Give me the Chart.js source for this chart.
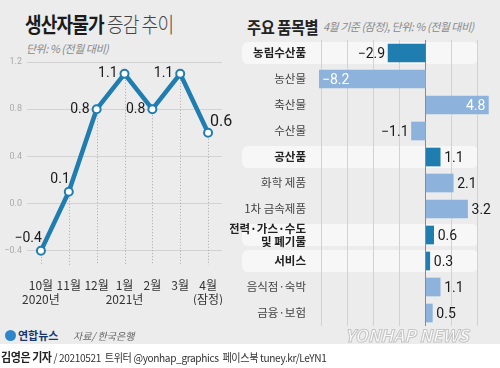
<!DOCTYPE html>
<html>
<head>
<meta charset="utf-8">
<script src="https://cdn.jsdelivr.net/npm/chart.js@4/dist/chart.umd.min.js"></script>
<style>
  body { margin: 0; }
  #wrap { position: relative; width: 500px; height: 368px; background: #ececec; overflow: hidden;
          font-family: "Noto Sans CJK KR", "Noto Sans", sans-serif; color: #222; }
  #wrap canvas { position: absolute; }
  .t { position: absolute; white-space: nowrap; }
  #title { left: 25px; top: 8px; font-size: 21px; letter-spacing: -1px; transform: scaleX(0.86); transform-origin: left center; }
  #title b { color: #1b1b1b; }
  #title span { color: #444; font-weight: 300; }
  #unit { left: 26px; top: 40px; font-size: 11px; color: #888; font-style: italic; letter-spacing: -0.5px; }
  #title2 { left: 247px; top: 14px; font-size: 17px; font-weight: bold; letter-spacing: -0.5px; transform: scaleX(0.9); transform-origin: left center; }
  #unit2 { left: 323px; top: 18px; font-size: 11px; color: #888; font-style: italic; letter-spacing: -0.5px; }
  #logo { left: 5px; top: 327px; font-size: 11px; font-weight: bold; color: #17386e; }
  #logo i { display: inline-block; width: 11px; height: 11px; border-radius: 50%; background: #2f86c8; vertical-align: -1px; margin-right: 2px; }
  #source { left: 73px; top: 328px; font-size: 10px; color: #666; font-style: italic; }
  #mark { left: 345px; top: 322px; font-size: 17px; font-weight: bold; font-style: italic; color: rgba(255,255,255,0.75);
          -webkit-text-stroke: 1px rgba(150,150,150,0.5); }
  #foot { left: 0; top: 344px; width: 500px; height: 24px; background: #fff; }
  #byline { left: 1px; top: 348px; font-size: 11px; color: #333; letter-spacing: -0.4px;
            font-family: "Liberation Sans Narrow", "Noto Sans CJK KR", sans-serif; transform: scaleX(0.92); transform-origin: left center; }
  #byline b { font-size: 12px; color: #222; font-family: "Noto Sans CJK KR", sans-serif; letter-spacing: -0.5px; }
</style>
</head>
<body>
<div id="wrap">
  <div class="t" id="title"><b>생산자물가</b> <span>증감 추이</span></div>
  <div class="t" id="unit">단위: % (전월 대비)</div>
  <div class="t" id="title2">주요 품목별</div>
  <div class="t" id="unit2">4월 기준 (잠정), 단위: % (전월 대비)</div>
  <canvas id="lineChart" width="240" height="320" style="left:0;top:0"></canvas>
  <canvas id="barChart" width="270" height="340" style="left:230px;top:0"></canvas>
  <div class="t" id="logo"><i></i>연합뉴스</div>
  <div class="t" id="source">자료/ 한국은행</div>
  <div class="t" id="mark">YONHAP NEWS</div>
  <div class="t" id="foot"></div>
  <div class="t" id="byline"><b>김영은 기자</b> / 20210521 &nbsp;트위터 @yonhap_graphics &nbsp;페이스북 tuney.kr/LeYN1</div>
</div>
<script>
// monthly producer price change
const months = ['10월', '11월', '12월', '1월', '2월', '3월', '4월'];
const yearLabels = ['2020년', '', '', '2021년', '', '', '(잠정)'];
const ppiChange = [-0.4, 0.1, 0.8, 1.1, 0.8, 1.1, 0.6];
const ppiTicks = [-0.4, 0, 0.4, 0.8, 1.2];
const labelSpots = ['nw', 'nw', 'w', 'w', 'w', 'w', 'ne'];

// items, April
const itemNames = ['농림수산품', '농산물', '축산물', '수산물', '공산품', '화학 제품', '1차 금속제품',
    ['전력·가스·수도', '및 폐기물'], '서비스', '음식점·숙박', '금융·보험'];
const itemValues = [-2.9, -8.2, 4.8, -1.1, 1.1, 2.1, 3.2, 0.6, 0.3, 1.1, 0.5];
const itemIsGroup = [true, false, false, false, true, false, false, true, true, false, false];
const itemTicks = [-8, -6, -4, -2, 0, 2, 4];

const blue = '#1f7db0';
const lightBlue = '#8db3dc';
const numFont = '"Liberation Sans Narrow", Roboto, sans-serif';
const krFont = '"Noto Sans CJK KR", sans-serif';

function fmt(v) {
    let s = Math.abs(v).toFixed(1);
    return v < 0 ? '−' + s : s;
}

// dotted drop lines + value labels for the line chart
const linePlugin = {
    id: 'lineExtras',
    beforeDatasetsDraw(chart) {
        let ctx = chart.ctx;
        let pts = chart.getDatasetMeta(0).data;
        ctx.save();
        ctx.strokeStyle = '#aaa';
        ctx.lineWidth = 1;
        ctx.setLineDash([1, 2]);
        for (let i = 0; i < pts.length; i++) {
            ctx.beginPath();
            ctx.moveTo(Math.round(pts[i].x) + 0.5, pts[i].y);
            ctx.lineTo(Math.round(pts[i].x) + 0.5, chart.chartArea.bottom);
            ctx.stroke();
        }
        ctx.restore();
    },
    afterDatasetsDraw(chart) {
        let ctx = chart.ctx;
        let pts = chart.getDatasetMeta(0).data;
        ctx.save();
        ctx.fillStyle = '#1a1a1a';
        ctx.textBaseline = 'middle';
        for (let i = 0; i < pts.length; i++) {
            let p = pts[i];
            let spot = labelSpots[i];
            if (spot == 'nw') {
                ctx.font = '14px ' + numFont;
                ctx.textAlign = 'right';
                ctx.fillText(fmt(ppiChange[i]), p.x + 1, p.y - 12);
            } else if (spot == 'w') {
                ctx.font = '14px ' + numFont;
                ctx.textAlign = 'right';
                ctx.fillText(fmt(ppiChange[i]), p.x - 7, p.y);
            } else {
                ctx.font = '16px ' + numFont;
                ctx.textAlign = 'left';
                ctx.fillText(fmt(ppiChange[i]), p.x + 2, p.y - 11);
            }
        }
        ctx.restore();
    }
};

new Chart(document.getElementById('lineChart').getContext('2d'), {
    type: 'line',
    data: {
        labels: months,
        datasets: [{
            data: ppiChange,
            borderColor: blue,
            borderWidth: 4.5,
            pointRadius: 4,
            pointBorderWidth: 2,
            pointBackgroundColor: '#fff',
            pointBorderColor: blue,
            tension: 0
        }]
    },
    options: {
        responsive: false,
        animation: false,
        layout: { padding: { top: 62, right: 18, bottom: 15, left: 0 } },
        plugins: { legend: { display: false }, tooltip: { enabled: false } },
        scales: {
            x: {
                offset: true,
                grid: { display: false },
                border: { display: false },
                afterFit: s => { s.height = 40; },
                ticks: {
                    autoSkip: false,
                    maxRotation: 0,
                    padding: 5,
                    color: '#333',
                    font: { family: krFont, size: 12 },
                    callback: (v, i) => yearLabels[i] ? [months[i], yearLabels[i]] : months[i]
                }
            },
            y: {
                min: -0.52,
                max: 1.2,
                afterBuildTicks: s => { s.ticks = ppiTicks.map(v => ({ value: v })); },
                afterFit: s => { s.width = 27; },
                border: { display: false },
                grid: { color: '#d2d2d2', drawTicks: false },
                ticks: {
                    padding: 5,
                    color: '#aaa',
                    font: { family: numFont, size: 9 },
                    callback: v => fmt(v)
                }
            }
        }
    },
    plugins: [linePlugin]
});

// row bands + value labels for the bar chart
const barPlugin = {
    id: 'barExtras',
    beforeDraw(chart) {
        let ctx = chart.ctx;
        let ys = chart.scales.y;
        ctx.save();
        ctx.fillStyle = '#f7f7f7';
        for (let i = 0; i < itemNames.length; i++) {
            if (!itemIsGroup[i]) continue;
            let y = ys.getPixelForValue(i);
            ctx.beginPath();
            ctx.roundRect(12, y - 11, 236, 22, 6);
            ctx.fill();
        }
        ctx.restore();
    },
    afterDatasetsDraw(chart) {
        let ctx = chart.ctx;
        let bars = chart.getDatasetMeta(0).data;
        ctx.save();
        ctx.font = '14px ' + numFont;
        ctx.textBaseline = 'middle';
        for (let i = 0; i < bars.length; i++) {
            let b = bars[i];
            let v = itemValues[i];
            let txt = fmt(v);
            if (Math.abs(v) > 4) {
                ctx.fillStyle = '#fff';
                if (v < 0) { ctx.textAlign = 'left'; ctx.fillText(txt, b.x + 3, b.y + 1); }
                else { ctx.textAlign = 'right'; ctx.fillText(txt, b.x - 3, b.y + 1); }
            } else {
                ctx.fillStyle = '#1a1a1a';
                if (v < 0) { ctx.textAlign = 'right'; ctx.fillText(txt, b.x - 3, b.y + 1); }
                else { ctx.textAlign = 'left'; ctx.fillText(txt, b.x + 4, b.y + 1); }
            }
        }
        ctx.restore();
    }
};

new Chart(document.getElementById('barChart').getContext('2d'), {
    type: 'bar',
    data: {
        labels: itemNames,
        datasets: [{
            data: itemValues,
            backgroundColor: itemIsGroup.map(g => g ? blue : lightBlue),
            barThickness: 18,
            borderWidth: 0
        }]
    },
    options: {
        indexAxis: 'y',
        responsive: false,
        animation: false,
        layout: { padding: { top: 40, right: 9, bottom: 14, left: 0 } },
        plugins: { legend: { display: false }, tooltip: { enabled: false } },
        scales: {
            x: {
                min: -8.2,
                max: 5,
                afterBuildTicks: s => { s.ticks = itemTicks.map(v => ({ value: v })); },
                afterFit: s => { s.height = 0; },
                border: { display: false },
                grid: { color: c => c.tick && c.tick.value === 0 ? '#8a8a8a' : '#d2d2d2', drawTicks: false },
                ticks: { display: false }
            },
            y: {
                afterFit: s => { s.width = 89; },
                grid: { display: false },
                border: { display: false },
                ticks: {
                    autoSkip: false,
                    padding: 5,
                    color: c => itemIsGroup[c.index] ? '#222' : '#444',
                    font: c => ({ family: krFont, size: 11.5, lineHeight: 1.1, weight: itemIsGroup[c.index] ? 'bold' : 'normal' })
                }
            }
        }
    },
    plugins: [barPlugin]
});
</script>
</body>
</html>
